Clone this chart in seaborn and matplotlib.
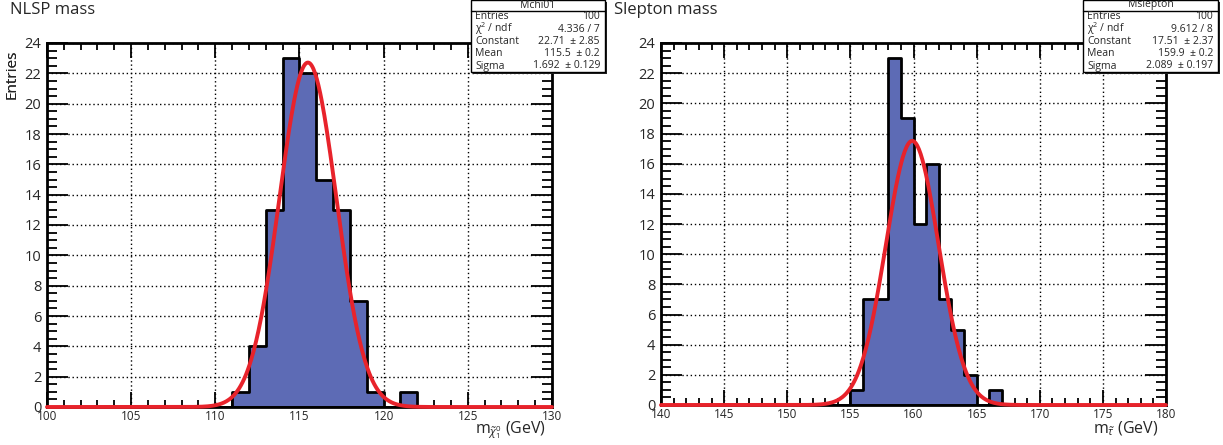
import numpy as np
import pandas as pd
import matplotlib
matplotlib.use("Agg")
import matplotlib.pyplot as plt
import seaborn as sns
from matplotlib.ticker import MultipleLocator
from matplotlib.patches import Rectangle
from matplotlib.lines import Line2D

# ---------------- data ----------------
nlsp_range = (100, 130)
nlsp_bin_low = [111, 112, 113, 114, 115, 116, 117, 118, 119, 120, 121]
nlsp_counts = [1, 4, 13, 23, 22, 15, 13, 7, 1, 0, 1]
nlsp_fit = dict(constant=22.71, mean=115.5, sigma=1.692)
nlsp_stats_name = "Mchi01"
nlsp_stats = [("Entries", "100"), ("\u03c7$^2$ / ndf", "4.336 / 7"),
              ("Constant", "22.71  \u00b1 2.85"), ("Mean", "115.5  \u00b1 0.2"),
              ("Sigma", "1.692  \u00b1 0.129")]

slep_range = (140, 180)
slep_bin_low = [155, 156, 157, 158, 159, 160, 161, 162, 163, 164, 165, 166]
slep_counts = [1, 7, 7, 23, 19, 12, 16, 7, 5, 2, 0, 1]
slep_fit = dict(constant=17.51, mean=159.9, sigma=2.089)
slep_stats_name = "Mslepton"
slep_stats = [("Entries", "100"), ("\u03c7$^2$ / ndf", "9.612 / 8"),
              ("Constant", "17.51  \u00b1 2.37"), ("Mean", "159.9  \u00b1 0.2"),
              ("Sigma", "2.089  \u00b1 0.197")]

titles = ["NLSP mass", "Slepton mass"]
xlabels = [r"m$_{\tilde{\chi}^0_1}$ (GeV)", r"m$_{\tilde{\tau}}$ (GeV)"]

FILL = "#5d6bb5"
RED = "#e8232b"
W, H = 1223, 445

sns.set_style("ticks")
plt.rcParams["font.family"] = ["Open Sans", "DejaVu Sans"]
plt.rcParams["mathtext.fontset"] = "custom"
plt.rcParams["mathtext.rm"] = "Open Sans"
plt.rcParams["mathtext.it"] = "Open Sans:italic"

fig = plt.figure(figsize=(W / 100, H / 100), dpi=100)

panels = [
    dict(rng=nlsp_range, low=nlsp_bin_low, cnt=nlsp_counts, fit=nlsp_fit,
         name=nlsp_stats_name, stats=nlsp_stats, px=(47, 552, 43, 407),
         title_x=10, box=(471, 605, 0, 72), xlab_end=546),
    dict(rng=slep_range, low=slep_bin_low, cnt=slep_counts, fit=slep_fit,
         name=slep_stats_name, stats=slep_stats, px=(661, 1166, 43, 405),
         title_x=614, box=(1083, 1218, 0, 72), xlab_end=1158),
]

for i, p in enumerate(panels):
    x0, x1, y0, y1 = p["px"]
    ax = fig.add_axes([x0 / W, 1 - y1 / H, (x1 - x0) / W, (y1 - y0) / H])
    lo, hi = p["rng"]
    centers = np.array(p["low"], dtype=float) + 0.5
    df = pd.DataFrame({"x": centers, "w": np.array(p["cnt"], dtype=float)})
    sns.histplot(data=df, x="x", weights="w", binwidth=1, binrange=(lo, hi),
                 element="step", fill=True, color=FILL, alpha=1,
                 edgecolor="black", linewidth=2.0, ax=ax, zorder=2)
    f = p["fit"]
    xs = np.linspace(lo, hi, 600)
    ys = f["constant"] * np.exp(-0.5 * ((xs - f["mean"]) / f["sigma"]) ** 2)
    sns.lineplot(x=xs, y=ys, color=RED, linewidth=2.8, ax=ax, zorder=6,
                 clip_on=False)
    ax.set_xlim(lo, hi)
    ax.set_ylim(0, 24)
    ax.xaxis.set_major_locator(MultipleLocator(5))
    ax.xaxis.set_minor_locator(MultipleLocator(1))
    ax.yaxis.set_major_locator(MultipleLocator(2))
    ax.yaxis.set_minor_locator(MultipleLocator(0.5))
    ax.tick_params(which="both", direction="in", top=True, right=True,
                   color="black", width=1.3)
    ax.tick_params(axis="x", which="major", length=11, labelsize=8.5, pad=2)
    ax.tick_params(axis="x", which="minor", length=5)
    ax.tick_params(axis="y", which="major", length=15, labelsize=10.5, pad=4)
    ax.tick_params(axis="y", which="minor", length=7)
    ax.grid(True, which="major", color="black", linestyle=(0, (1, 2)),
            linewidth=1.0, zorder=0)
    ax.set_axisbelow(True)
    for s in ax.spines.values():
        s.set_linewidth(2)
        s.set_color("black")
        s.set_zorder(4)
    ax.set_xlabel("")
    ax.set_ylabel("")
    ax.text((12 - x0) / (x1 - x0), (y1 - 50) / (y1 - y0), "Entries",
            rotation=90, ha="center", va="top", fontsize=11,
            transform=ax.transAxes)
    fig.text(p["xlab_end"] / W, 1 - 433 / H, xlabels[i], ha="right",
             va="baseline", fontsize=11.5)
    fig.text(p["title_x"] / W, 1 - 2 / H, titles[i], ha="left", va="top",
             fontsize=12)

    # stats box
    bx0, bx1, by0, by1 = p["box"]
    fig.add_artist(Rectangle((bx0 / W + 2 / W, 1 - (by1 + 2) / H),
                             (bx1 - bx0) / W, (by1 - by0) / H,
                             transform=fig.transFigure, facecolor="#222222",
                             edgecolor="none", zorder=9))
    fig.add_artist(Rectangle((bx0 / W, 1 - by1 / H), (bx1 - bx0) / W,
                             (by1 - by0) / H, transform=fig.transFigure,
                             facecolor="white", edgecolor="black",
                             linewidth=1.0, zorder=10))
    fig.add_artist(Line2D([bx0 / W, bx1 / W], [1 - 11 / H, 1 - 11 / H],
                          transform=fig.transFigure, color="black",
                          linewidth=1.0, zorder=11))
    fig.text((bx0 + bx1) / 2 / W, 1 - 5 / H, p["name"], ha="center",
             va="center", fontsize=7.5, zorder=12)
    rows_y = [16.5, 29, 41.5, 54, 66]
    for (lab, val), ry in zip(p["stats"], rows_y):
        fig.text((bx0 + 4) / W, 1 - ry / H, lab, ha="left", va="center",
                 fontsize=7.5, zorder=12)
        fig.text((bx1 - 5) / W, 1 - ry / H, val, ha="right", va="center",
                 fontsize=7.5, zorder=12)

fig.savefig("out.png", dpi=100)
